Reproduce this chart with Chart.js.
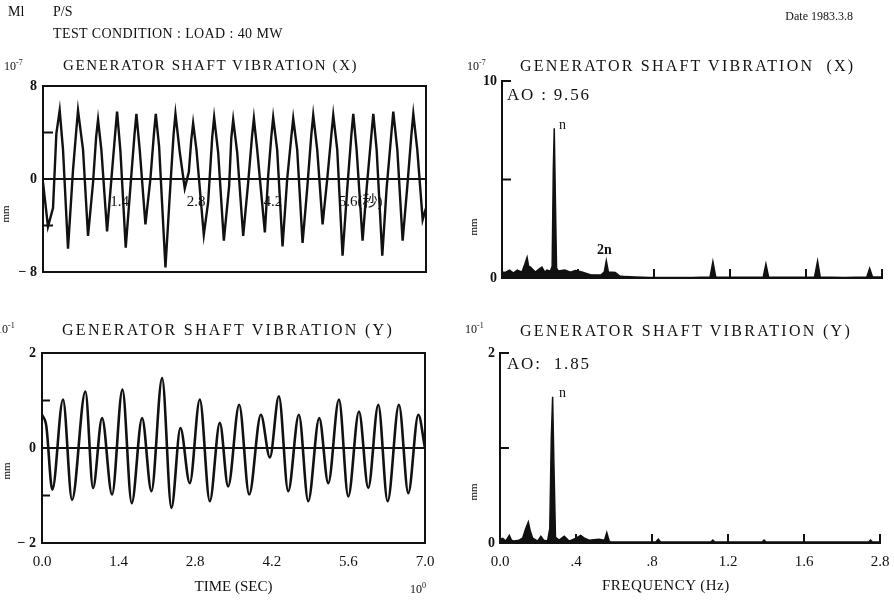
<!DOCTYPE html>
<html>
<head>
<meta charset="utf-8">
<title>Generator shaft vibration</title>
<script src="https://cdn.jsdelivr.net/npm/chart.js@4.4.1/dist/chart.umd.min.js"></script>
<style>
  body { margin: 0; background: #fff; }
  #page { position: relative; width: 894px; height: 601px; overflow: hidden; color: #111;
          font-family: "Liberation Serif", "DejaVu Serif", "Noto Sans CJK JP", serif; }
  canvas { position: absolute; }
  .t { position: absolute; white-space: nowrap; line-height: 1; filter: grayscale(1); }
  .t sup { font-size: 8px; vertical-align: 5px; }
  .mm { position: absolute; font-size: 11px; line-height: 1; filter: grayscale(1);
        transform: translate(-50%, -50%) rotate(-90deg); }
</style>
</head>
<body>
<div id="page">
  <div class="t" style="left:8px;top:5px;font-size:14px">Ml</div>
  <div class="t" style="left:53px;top:5px;font-size:14px">P/S</div>
  <div class="t" style="left:53px;top:27px;font-size:14px;letter-spacing:0.4px">TEST CONDITION : LOAD : 40 MW</div>
  <div class="t" style="right:41px;top:10px;font-size:12px">Date 1983.3.8</div>

  <div class="t" style="left:4px;top:59px;font-size:12px">10<sup>-7</sup></div>
  <div class="t" style="left:63px;top:58px;font-size:15px;letter-spacing:1.6px">GENERATOR SHAFT VIBRATION (X)</div>
  <div class="t" style="left:467px;top:59px;font-size:12px">10<sup>-7</sup></div>
  <div class="t" style="left:520px;top:58px;font-size:16px;letter-spacing:2.2px">GENERATOR SHAFT VIBRATION&nbsp; (X)</div>

  <div class="t" style="left:-4px;top:322px;font-size:12px">10<sup>-1</sup></div>
  <div class="t" style="left:62px;top:322px;font-size:16px;letter-spacing:2.3px">GENERATOR SHAFT VIBRATION (Y)</div>
  <div class="t" style="left:465px;top:322px;font-size:12px">10<sup>-1</sup></div>
  <div class="t" style="left:520px;top:323px;font-size:16px;letter-spacing:2.3px">GENERATOR SHAFT VIBRATION (Y)</div>

  <div class="mm" style="left:5px;top:214px">mm</div>
  <div class="mm" style="left:473px;top:227px">mm</div>
  <div class="mm" style="left:6px;top:471px">mm</div>
  <div class="mm" style="left:473px;top:492px">mm</div>

  <div class="t" style="left:507px;top:86px;font-size:17px;letter-spacing:1.8px">AO : 9.56</div>
  <div class="t" style="left:559px;top:118px;font-size:14px">n</div>
  <div class="t" style="left:597px;top:243px;font-size:14px;font-weight:bold">2n</div>
  <div class="t" style="left:507px;top:355px;font-size:17px;letter-spacing:1.8px">AO:&nbsp; 1.85</div>
  <div class="t" style="left:559px;top:386px;font-size:14px">n</div>

  <div class="t" style="left:410px;top:582px;font-size:12px">10<sup>0</sup></div>
  <div class="t" style="left:602px;top:578px;font-size:15px;letter-spacing:0.5px">FREQUENCY (Hz)</div>

  <canvas id="timeXChart" width="440" height="240" style="left:0;top:60px"></canvas>
  <canvas id="specXChart" width="454" height="240" style="left:440px;top:60px"></canvas>
  <canvas id="timeYChart" width="440" height="261" style="left:0;top:340px"></canvas>
  <canvas id="specYChart" width="454" height="261" style="left:440px;top:340px"></canvas>
</div>

<script>
const INK = "#111";

// time history, X direction (10^-7 mm)
const timeX = [0, 0.091, 0.183, 0.244, 0.305, 0.366, 0.457, 0.549, 0.605, 0.640,
  0.732, 0.823, 0.915, 0.971, 1.006, 1.067, 1.171, 1.250, 1.319, 1.354,
  1.415, 1.512, 1.604, 1.672, 1.707, 1.768, 1.872, 1.963, 2.026, 2.061,
  2.122, 2.238, 2.317, 2.386, 2.421, 2.500, 2.591, 2.665, 2.709, 2.744,
  2.805, 2.939, 3.018, 3.093, 3.128, 3.201, 3.305, 3.402, 3.441, 3.476,
  3.549, 3.659, 3.750, 3.819, 3.854, 3.915, 4.055, 4.116, 4.172, 4.207,
  4.280, 4.378, 4.463, 4.538, 4.573, 4.646, 4.744, 4.829, 4.904, 4.939,
  5.012, 5.110, 5.195, 5.270, 5.305, 5.378, 5.475, 5.561, 5.636, 5.671,
  5.732, 5.841, 5.915, 6.002, 6.037, 6.098, 6.201, 6.280, 6.367, 6.402,
  6.476, 6.573, 6.659, 6.733, 6.768, 6.841, 6.939, 7.0];
const dispX = [-0.3, -4.1, -2.5, 3.9, 5.9, 2.5, -6.0, 0.8, 4.0, 5.9,
  2.5, -4.9, -0.3, 3.6, 5.1, 2.5, -4.5, 0, 3.9, 5.8,
  2.4, -5.9, -0.3, 3.8, 5.6, 2.5, -3.9, 0, 3.8, 5.6,
  2.8, -7.6, -1.4, 3.8, 5.6, 2.3, -0.8, 0.6, 3.3, 4.8,
  2.5, -4.8, -2.0, 3.6, 5.3, 2.3, -5.3, -0.6, 3.5, 5.1,
  2.3, -4.9, -0.3, 3.6, 5.2, 2.5, -4.6, 0.3, 3.6, 5.3,
  2.5, -5.8, 0, 3.6, 5.2, 2.5, -5.5, -0.8, 3.8, 5.5,
  2.5, -3.9, 0, 3.8, 5.5, 2.5, -6.6, -0.8, 3.8, 5.6,
  2.5, -5.3, -0.8, 3.8, 5.6, 2.5, -6.6, -0.8, 3.9, 5.8,
  2.5, -5.3, -0.6, 3.8, 5.6, 2.5, -3.5, -2.5];

// time history, Y direction (10^-1 mm)
const timeY = [0, 0.079, 0.189, 0.384, 0.549, 0.793, 0.933, 1.098, 1.280, 1.470,
  1.640, 1.829, 2.000, 2.195, 2.366, 2.530, 2.701, 2.884, 3.067, 3.250,
  3.402, 3.604, 3.787, 4.000, 4.165, 4.329, 4.500, 4.695, 4.866, 5.067,
  5.232, 5.427, 5.598, 5.793, 5.963, 6.146, 6.317, 6.524, 6.695, 6.878, 7.0];
const dispY = [0.70, 0.46, -0.88, 1.02, -1.09, 1.19, -0.84, 0.63, -0.98, 1.23,
  -1.16, 0.63, -0.91, 1.47, -1.26, 0.42, -0.74, 1.02, -1.12, 0.53,
  -0.81, 0.91, -0.98, 0.70, -0.20, 1.09, -0.91, 0.70, -1.12, 0.63,
  -0.74, 1.02, -1.02, 0.77, -0.84, 0.91, -1.12, 0.91, -0.95, 0.70, 0.0];

// spectrum, X direction
const freqX = [0, 0.017, 0.040, 0.060, 0.080, 0.105, 0.120, 0.132, 0.140, 0.150,
  0.175, 0.195, 0.210, 0.225, 0.237, 0.255, 0.264, 0.270, 0.275, 0.280,
  0.287, 0.297, 0.330, 0.360, 0.386, 0.420, 0.465, 0.520, 0.538, 0.549,
  0.560, 0.596, 0.620, 0.649, 0.700, 0.780, 1.000, 1.095, 1.110, 1.125,
  1.200, 1.375, 1.389, 1.403, 1.500, 1.645, 1.661, 1.675, 1.800, 1.920,
  1.935, 1.950, 2.0];
const ampX = [0.30, 0.28, 0.40, 0.25, 0.40, 0.30, 0.70, 1.05, 0.60, 0.55,
  0.30, 0.45, 0.55, 0.30, 0.40, 0.35, 0.60, 5.5, 7.6, 4.5,
  0.50, 0.35, 0.40, 0.30, 0.38, 0.30, 0.17, 0.15, 0.30, 0.88,
  0.30, 0.28, 0.10, 0.07, 0.05, 0.03, 0.03, 0.05, 0.83, 0.05,
  0.04, 0.05, 0.71, 0.05, 0.04, 0.05, 0.86, 0.05, 0.03, 0.05,
  0.49, 0.05, 0.05];

// spectrum, Y direction
const freqY = [0, 0.014, 0.030, 0.049, 0.060, 0.075, 0.100, 0.119, 0.135, 0.149,
  0.160, 0.172, 0.198, 0.215, 0.230, 0.250, 0.262, 0.270, 0.277, 0.283,
  0.292, 0.311, 0.338, 0.364, 0.400, 0.425, 0.445, 0.469, 0.521, 0.550,
  0.562, 0.575, 0.583, 0.700, 0.820, 0.833, 0.845, 1.000, 1.110, 1.120,
  1.130, 1.380, 1.390, 1.400, 1.940, 1.950, 1.960, 2.0];
const ampY = [0.04, 0.05, 0.02, 0.08, 0.03, 0.02, 0.03, 0.05, 0.15, 0.22,
  0.12, 0.05, 0.02, 0.07, 0.03, 0.02, 0.15, 1.10, 1.54, 0.90,
  0.06, 0.03, 0.07, 0.02, 0.05, 0.08, 0.05, 0.03, 0.04, 0.03,
  0.11, 0.02, 0.01, 0.01, 0.01, 0.04, 0.01, 0.01, 0.01, 0.03,
  0.01, 0.01, 0.03, 0.01, 0.01, 0.03, 0.01, 0.01];

// tick marks and labels
const timeTicks = [0, 1.4, 2.8, 4.2, 5.6, 7.0];
const timeLabels = ["0.0", "1.4", "2.8", "4.2", "5.6", "7.0"];
const inlineTicks = [1.4, 2.8, 4.2, 5.6];
const inlineLabels = ["1.4", "2.8", "4.2", "      5.6(秒)"];
const freqTicks = [0, 0.4, 0.8, 1.2, 1.6, 2.0];
const freqLabels = ["0.0", ".4", ".8", "1.2", "1.6", "2.8"];
const dispXTicks = [-8, -4, 0, 4, 8];
const dispXLabels = ["− 8", "", "0", "", "8"];
const dispYTicks = [-2, -1, 0, 1, 2];
const dispYLabels = ["− 2", "", "0", "", "2"];
const ampXTicks = [0, 5, 10];
const ampXLabels = ["0", "", "10"];
const ampYTicks = [0, 1, 2];
const ampYLabels = ["0", "", "2"];

Chart.defaults.font.family = '"Liberation Serif", "DejaVu Serif", "Noto Sans CJK JP", serif';
Chart.defaults.color = INK;

// short inward ticks and optional box frame
const innerTicks = {
  id: "innerTicks",
  afterDatasetsDraw(chart, args, opts) {
    const { ctx, chartArea, scales } = chart;
    ctx.save();
    ctx.strokeStyle = INK;
    ctx.lineWidth = 2;
    (opts.y || []).forEach(v => {
      const py = scales.y.getPixelForValue(v);
      ctx.beginPath();
      ctx.moveTo(chartArea.left, py);
      ctx.lineTo(chartArea.left + opts.len, py);
      ctx.stroke();
    });
    (opts.x || []).forEach(v => {
      const px = scales.x.getPixelForValue(v);
      ctx.beginPath();
      ctx.moveTo(px, chartArea.bottom);
      ctx.lineTo(px, chartArea.bottom - opts.len);
      ctx.stroke();
    });
    if (opts.frame) {
      ctx.strokeRect(chartArea.left, chartArea.top, chartArea.width, chartArea.height);
    }
    ctx.restore();
  }
};

function pairs(xs, ys) {
  return xs.map((x, i) => ({ x: x, y: ys[i] }));
}

function fixedTicks(values) {
  return s => { s.ticks = values.map(v => ({ value: v })); };
}

function baseOptions(padding, tickOpts) {
  return {
    responsive: false,
    animation: false,
    devicePixelRatio: 1,
    layout: { padding: padding },
    plugins: { legend: { display: false }, tooltip: { enabled: false }, innerTicks: tickOpts }
  };
}

// X time history
const optA = baseOptions({ top: 26, right: 14, bottom: 28, left: 0 }, { y: [-4, 4], len: 10, frame: true });
optA.scales = {
  x: {
    type: "linear", min: 0, max: 7, position: { y: 0 },
    afterBuildTicks: fixedTicks(inlineTicks),
    afterFit: s => { s.paddingLeft = 0; s.paddingRight = 0; },
    grid: { display: false, drawTicks: false },
    border: { display: true, color: INK, width: 2 },
    ticks: { font: { size: 15 }, padding: 14, maxRotation: 0, autoSkip: false,
             callback: (v, i) => inlineLabels[i] }
  },
  y: {
    min: -8, max: 8,
    afterBuildTicks: fixedTicks(dispXTicks),
    afterFit: s => { s.width = 43; s.paddingTop = 0; s.paddingBottom = 0; },
    grid: { display: false, drawTicks: false },
    border: { display: false },
    ticks: { font: { size: 14, weight: "bold" }, padding: 6, callback: (v, i) => dispXLabels[i] }
  }
};
new Chart(document.getElementById("timeXChart"), {
  type: "line",
  data: { datasets: [{ data: pairs(timeX, dispX), borderColor: INK, borderWidth: 2.4, pointRadius: 0, tension: 0 }] },
  options: optA,
  plugins: [innerTicks]
});

// X spectrum
const optB = baseOptions({ top: 21, right: 12, bottom: 0, left: 0 },
  { y: [5, 10], x: freqTicks.slice(1), len: 9 });
optB.scales = {
  x: {
    type: "linear", min: 0, max: 2,
    afterBuildTicks: fixedTicks(freqTicks),
    afterFit: s => { s.height = 22; s.paddingLeft = 0; s.paddingRight = 0; },
    grid: { display: false, drawTicks: false },
    border: { display: true, color: INK, width: 2 },
    ticks: { display: false }
  },
  y: {
    min: 0, max: 10,
    afterBuildTicks: fixedTicks(ampXTicks),
    afterFit: s => { s.width = 62; s.paddingTop = 0; s.paddingBottom = 0; },
    grid: { display: false, drawTicks: false },
    border: { display: true, color: INK, width: 2 },
    ticks: { font: { size: 14, weight: "bold" }, padding: 5, callback: (v, i) => ampXLabels[i] }
  }
};
new Chart(document.getElementById("specXChart"), {
  type: "line",
  data: { datasets: [{ data: pairs(freqX, ampX), borderColor: INK, backgroundColor: INK, borderWidth: 1.5,
                       fill: "origin", pointRadius: 0, tension: 0 }] },
  options: optB,
  plugins: [innerTicks]
});

// Y time history
const optC = baseOptions({ top: 13, right: 15, bottom: 0, left: 0 }, { y: [-1, 1], len: 8, frame: true });
optC.scales = {
  x: {
    type: "linear", min: 0, max: 7,
    afterBuildTicks: fixedTicks(timeTicks),
    afterFit: s => { s.height = 58; s.paddingLeft = 0; s.paddingRight = 0; },
    grid: { display: false, drawTicks: false },
    border: { display: false },
    ticks: { font: { size: 15 }, padding: 10, maxRotation: 0, autoSkip: false,
             callback: (v, i) => timeLabels[i] },
    title: { display: true, text: "TIME (SEC)", font: { size: 15 }, padding: { top: 0, bottom: 5 } }
  },
  y: {
    min: -2, max: 2,
    afterBuildTicks: fixedTicks(dispYTicks),
    afterFit: s => { s.width = 42; s.paddingTop = 0; s.paddingBottom = 0; },
    grid: { drawTicks: false, lineWidth: 2,
            color: c => (c.tick && c.tick.value === 0 ? INK : "rgba(0,0,0,0)") },
    border: { display: false },
    ticks: { font: { size: 14, weight: "bold" }, padding: 6, callback: (v, i) => dispYLabels[i] }
  }
};
new Chart(document.getElementById("timeYChart"), {
  type: "line",
  data: { datasets: [{ data: pairs(timeY, dispY), borderColor: INK, borderWidth: 2.6, pointRadius: 0,
                       cubicInterpolationMode: "monotone" }] },
  options: optC,
  plugins: [innerTicks]
});

// Y spectrum
const optD = baseOptions({ top: 13, right: 14, bottom: 0, left: 0 },
  { y: [1, 2], x: freqTicks.slice(1), len: 9 });
optD.scales = {
  x: {
    type: "linear", min: 0, max: 2,
    afterBuildTicks: fixedTicks(freqTicks),
    afterFit: s => { s.height = 58; s.paddingLeft = 0; s.paddingRight = 0; },
    grid: { display: false, drawTicks: false },
    border: { display: true, color: INK, width: 2 },
    ticks: { font: { size: 15 }, padding: 10, maxRotation: 0, autoSkip: false,
             callback: (v, i) => freqLabels[i] }
  },
  y: {
    min: 0, max: 2,
    afterBuildTicks: fixedTicks(ampYTicks),
    afterFit: s => { s.width = 60; s.paddingTop = 0; s.paddingBottom = 0; },
    grid: { display: false, drawTicks: false },
    border: { display: true, color: INK, width: 2 },
    ticks: { font: { size: 14, weight: "bold" }, padding: 5, callback: (v, i) => ampYLabels[i] }
  }
};
new Chart(document.getElementById("specYChart"), {
  type: "line",
  data: { datasets: [{ data: pairs(freqY, ampY), borderColor: INK, backgroundColor: INK, borderWidth: 1.5,
                       fill: "origin", pointRadius: 0, tension: 0 }] },
  options: optD,
  plugins: [innerTicks]
});
</script>
</body>
</html>
